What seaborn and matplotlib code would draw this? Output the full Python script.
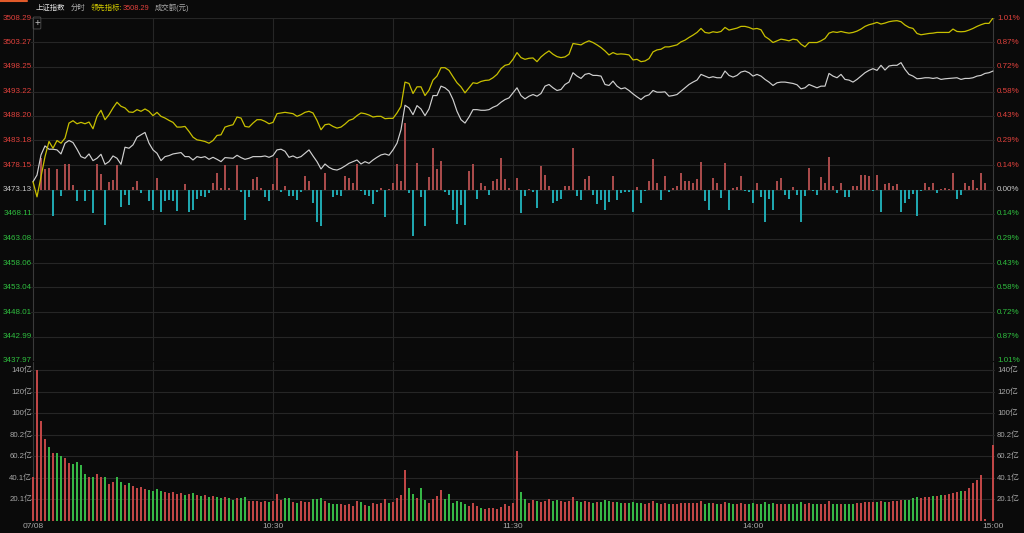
import numpy as np
import pandas as pd
import matplotlib.pyplot as plt
import seaborn as sns

# --- Data (one value per minute 09:30 .. 15:00) ---
PREV_CLOSE = 3473.13

PRICE_TICKS = [3508.29, 3503.27, 3498.25, 3493.22, 3488.20, 3483.18, 3478.15, 3473.13,
               3468.11, 3463.08, 3458.06, 3453.04, 3448.01, 3442.99, 3437.97]
PCT_LABELS = ['1.01%', '0.87%', '0.72%', '0.58%', '0.43%', '0.29%', '0.14%', '0.00%',
              '0.14%', '0.29%', '0.43%', '0.58%', '0.72%', '0.87%', '1.01%']

VOL_TICKS = [20.06, 40.11, 60.17, 80.23, 100.29, 120.34, 140.4]
VOL_LABELS = ['20.1亿', '40.1亿', '60.2亿', '80.2亿', '100亿', '120亿', '140亿']

TIME_POS = [0, 60, 120, 180, 240]
TIME_LABELS = ['07/08', '10:30', '11:30', '14:00', '15:00']

# index (white line)
WHITE = [
    3474.71, 3476.09, 3480.22, 3482.07, 3481.39, 3481.39, 3481.25, 3480.42, 3482.62, 3483.17,
    3482.76, 3481.39, 3479.87, 3479.53, 3480.42, 3479.05, 3479.53, 3480.35, 3478.29, 3478.84,
    3480.01, 3479.53, 3478.29, 3481.80, 3481.59, 3482.28, 3483.86, 3484.34, 3484.83, 3482.62,
    3481.25, 3480.56, 3479.05, 3479.87, 3480.08, 3480.42, 3480.56, 3480.70, 3479.87, 3479.87,
    3479.18, 3479.87, 3479.67, 3479.87, 3479.32, 3479.73, 3479.32, 3478.84, 3479.67, 3479.60,
    3479.53, 3480.15, 3479.67, 3479.32, 3479.53, 3479.87, 3479.87, 3479.87, 3480.01, 3479.73,
    3480.08, 3481.25, 3481.39, 3480.97, 3479.73, 3480.01, 3479.60, 3479.87, 3480.56, 3481.25,
    3480.01, 3478.84, 3477.33, 3478.36, 3477.67, 3477.26, 3477.12, 3477.46, 3477.95, 3478.50,
    3478.84, 3479.18, 3478.36, 3478.84, 3478.50, 3479.18, 3479.73, 3480.22, 3480.42, 3480.15,
    3481.25, 3482.62, 3485.38, 3490.40, 3489.85, 3488.47, 3490.33, 3489.64, 3488.27, 3489.64,
    3492.39, 3492.39, 3494.32, 3493.98, 3493.29, 3491.57, 3489.16, 3487.44, 3486.75, 3487.99,
    3489.50, 3489.50, 3489.37, 3489.37, 3489.50, 3489.99, 3490.33, 3491.02, 3491.57, 3491.91,
    3492.94, 3493.98, 3492.39, 3491.71, 3492.26, 3492.60, 3492.26, 3492.81, 3494.32, 3494.66,
    3493.98, 3493.43, 3493.63, 3494.66, 3495.15, 3497.07, 3496.38, 3495.90, 3496.73, 3496.93,
    3496.52, 3496.52, 3496.38, 3494.66, 3494.46, 3495.35, 3494.32, 3493.77, 3493.98, 3493.43,
    3492.74, 3492.12, 3491.57, 3492.26, 3492.53, 3493.43, 3493.08, 3493.08, 3493.15, 3492.26,
    3492.39, 3492.60, 3493.29, 3493.98, 3494.66, 3495.15, 3495.56, 3496.73, 3496.38, 3496.04,
    3496.25, 3496.04, 3496.04, 3497.42, 3496.52, 3496.18, 3496.52, 3497.21, 3497.42, 3497.07,
    3496.38, 3496.73, 3496.38, 3495.70, 3495.15, 3494.46, 3495.01, 3495.15, 3495.15, 3495.01,
    3494.87, 3494.60, 3493.77, 3493.98, 3494.66, 3494.32, 3493.98, 3494.32, 3494.32, 3496.93,
    3496.38, 3496.04, 3496.73, 3495.70, 3495.56, 3495.15, 3495.70, 3496.38, 3497.07, 3497.55,
    3497.90, 3497.55, 3498.59, 3497.62, 3498.45, 3498.59, 3498.59, 3499.14, 3497.76, 3496.73,
    3496.38, 3495.83, 3495.90, 3496.04, 3496.04, 3495.90, 3496.04, 3495.70, 3495.83, 3495.90,
    3495.97, 3496.04, 3495.70, 3495.90, 3495.90, 3496.04, 3496.38, 3496.52, 3496.93, 3497.07,
    3497.42,
]

# leading indicator (yellow line)
YELLOW = [
    3474.71, 3471.62, 3475.74, 3479.87, 3482.97, 3481.59, 3483.17, 3482.62, 3483.66, 3486.75,
    3487.23, 3486.61, 3486.89, 3486.61, 3486.96, 3485.58, 3488.13, 3489.37, 3487.44, 3488.47,
    3489.85, 3491.02, 3490.19, 3489.85, 3489.02, 3488.95, 3489.50, 3489.16, 3489.64, 3489.16,
    3488.27, 3488.95, 3488.13, 3487.78, 3487.30, 3486.89, 3485.93, 3485.93, 3486.06, 3485.03,
    3483.86, 3483.31, 3483.17, 3482.97, 3482.62, 3483.17, 3484.21, 3484.34, 3485.93, 3486.20,
    3486.41, 3487.99, 3487.78, 3486.06, 3485.93, 3486.75, 3487.44, 3487.44, 3487.10, 3486.61,
    3486.89, 3488.68, 3488.82, 3488.95, 3488.82, 3488.68, 3488.13, 3488.47, 3488.95, 3489.16,
    3488.82, 3487.30, 3485.38, 3486.41, 3486.55, 3486.06, 3485.72, 3485.93, 3486.55, 3487.30,
    3487.58, 3488.27, 3488.82, 3488.68, 3488.40, 3487.99, 3488.13, 3488.13, 3487.65, 3487.72,
    3487.72, 3488.82, 3490.19, 3495.15, 3494.87, 3492.81, 3494.18, 3494.18, 3492.39, 3493.49,
    3495.56, 3496.38, 3498.10, 3498.10, 3497.55, 3496.25, 3495.01, 3494.18, 3492.94, 3493.98,
    3495.01, 3494.87, 3495.28, 3495.49, 3495.56, 3496.04, 3496.73, 3497.90, 3498.59, 3498.79,
    3499.82, 3501.20, 3500.17, 3499.82, 3500.03, 3500.10, 3499.34, 3500.31, 3500.99, 3501.54,
    3500.86, 3500.37, 3500.17, 3500.31, 3500.86, 3503.06, 3502.92, 3502.78, 3503.26, 3503.61,
    3503.26, 3502.78, 3502.23, 3501.54, 3500.72, 3501.20, 3500.86, 3500.93, 3500.86, 3500.72,
    3499.69, 3499.82, 3499.34, 3499.48, 3499.96, 3501.34, 3501.75, 3501.89, 3502.37, 3502.37,
    3502.58, 3502.78, 3503.40, 3503.75, 3504.30, 3504.78, 3505.33, 3506.15, 3505.33, 3505.19,
    3505.47, 3505.33, 3505.53, 3506.36, 3505.81, 3506.02, 3506.22, 3506.57, 3506.57, 3506.36,
    3506.02, 3506.15, 3505.88, 3504.50, 3503.95, 3503.26, 3503.61, 3503.95, 3503.81, 3503.61,
    3503.95, 3503.81, 3502.92, 3502.37, 3503.26, 3503.26, 3503.26, 3503.61, 3504.09, 3505.19,
    3505.47, 3505.33, 3505.53, 3505.33, 3505.19, 3505.33, 3505.60, 3506.02, 3506.57, 3506.91,
    3507.12, 3507.39, 3507.05, 3507.25, 3507.53, 3507.67, 3507.74, 3507.53, 3506.84, 3506.36,
    3506.15, 3505.12, 3504.85, 3504.98, 3505.12, 3505.19, 3505.33, 3505.33, 3505.33, 3505.33,
    3506.02, 3505.53, 3505.47, 3505.53, 3505.81, 3506.15, 3506.57, 3506.91, 3507.19, 3507.19,
    3508.29,
]

# red / cyan strength bars around the previous close (points)
STRENGTH = [
    0, 0, 6.54, 4.27, 4.47, -5.37, 4.13, -1.38, 5.16, 5.16,
    0.89, -2.41, 0, -2.41, -0.34, -4.82, 5.16, 3.10, -7.22, 1.51,
    1.93, 4.95, -3.58, -1.03, -3.10, 0.55, 1.72, -0.69, 0, -2.41,
    -4.13, 2.41, -4.68, -2.41, -2.20, -2.41, -4.47, 0, 1.03, -4.68,
    -4.27, -1.93, -1.24, -1.51, -0.69, 1.24, 3.44, 0.34, 5.02, 0.21,
    0, 5.02, -0.55, -6.19, -1.51, 2.06, 2.55, 0.34, -1.51, -2.41,
    1.03, 6.54, -0.55, 0.69, -1.24, -1.24, -2.06, -0.55, 2.75, 1.72,
    -2.75, -6.74, -7.43, 3.44, 0, -1.51, -1.03, -1.24, 2.75, 2.41,
    1.24, 5.16, -0.21, -1.03, -1.38, -2.89, -0.55, 0.34, -5.64, 0.14,
    1.24, 5.16, 1.72, 13.62, -0.69, -9.49, 5.37, -1.51, -7.43, 2.61,
    8.46, 4.13, 5.85, -0.55, -1.03, -4.13, -7.02, -3.10, -7.22, 3.78,
    5.16, -1.93, 1.38, 0.69, -1.03, 1.72, 2.06, 6.40, 2.20, 0.34,
    0, 2.41, -4.82, -1.38, 0.14, -0.55, -3.78, 4.82, 2.89, 0.69,
    -2.75, -2.41, -1.93, 0.69, 0.69, 8.46, -1.24, -2.06, 2.20, 2.75,
    -1.03, -2.89, -2.06, -4.13, -2.61, 2.75, -2.06, -0.69, -0.55, -0.55,
    -4.68, 0.55, -2.75, -0.34, 1.72, 6.19, 1.38, -2.06, 2.75, -0.55,
    0.34, 0.69, 3.44, 1.72, 1.72, 1.24, 2.06, 5.64, -2.41, -4.13,
    2.41, 1.24, -1.72, 5.37, -4.27, 0.34, 0.55, 2.75, -0.34, -0.55,
    -2.75, 1.38, -1.51, -6.74, -1.93, -4.13, 1.72, 2.41, -1.03, -1.93,
    0.55, -1.03, -6.74, -1.38, 4.33, -0.34, -1.03, 2.61, 1.38, 6.74,
    0.69, -0.69, 1.38, -1.51, -1.51, 0.69, 0.69, 2.89, 2.89, 2.75,
    -0.34, 2.89, -4.68, 1.03, 1.38, 0.69, 1.03, -4.68, -2.75, -1.93,
    -0.83, -5.37, -0.34, 1.24, 0.55, 1.24, -0.69, 0.14, 0.34, 0.14,
    3.44, -1.93, -1.03, 1.38, 0.69, 1.93, 0.34, 3.30, 1.30, 0,
    0,
]

# turnover per minute (亿元)
VOLUME = [
    40.6, 140.4, 93.1, 76.3, 68.6, 63.2, 63.2, 60.4, 58.6, 53.9,
    52.7, 54.9, 52.0, 44.3, 41.5, 40.9, 44.3, 40.9, 41.5, 34.3,
    36.2, 41.5, 36, 34, 35, 33, 31, 32, 30, 29,
    28, 30, 28, 27, 26, 27, 25, 26, 24, 25,
    26, 24, 23, 24, 22, 23, 22, 21, 22, 21,
    20, 21, 21.5, 22.1, 18.7, 18.7, 18.3, 17.7, 18.7, 17.7,
    18.7, 24.9, 19.3, 21.1, 21.8, 17.7, 16.8, 18.7, 17.7, 17.7,
    20.2, 20.2, 21.5, 18.3, 17.1, 15.6, 15.6, 15.6, 14.6, 15.6,
    14.0, 18.7, 17.7, 14.6, 14.0, 17.1, 15.6, 16.8, 20.8, 17.1,
    17.7, 21.5, 24.6, 47.3, 31.1, 25.5, 21.8, 30.8, 19.3, 16.8,
    20.8, 23.3, 28.6, 20.8, 24.9, 17.1, 18.3, 17.7, 16.2, 14.0,
    16.8, 13.7, 12.1, 11.2, 12.1, 12.4, 10.9, 13.1, 15.6, 13.7,
    16.8, 65.0, 27.1, 20.2, 17.1, 19.3, 18.7, 17.4, 18.7, 20.2,
    18.7, 19.3, 19, 18, 19, 22, 19, 18, 19, 18,
    17, 18, 18, 20, 19, 18, 18, 17, 17, 17,
    18, 17, 17, 16, 17, 19, 17, 16, 17, 16,
    16, 16, 17, 17, 17, 17, 17, 19, 16, 17,
    17, 16, 16, 18, 17, 16, 16, 17, 16, 16,
    17, 16, 16, 18, 16, 17, 16, 16, 16, 16,
    16, 16, 18, 16, 17, 16, 16, 16, 16, 19,
    16, 16, 16, 16, 16, 16, 17, 17, 18, 18,
    18, 18, 19, 18, 18, 19, 19, 20, 20, 20,
    21, 22, 21, 22, 22, 23, 23, 24, 24, 25,
    26, 27, 27.8, 28.4, 30.9, 35.6, 38.7, 42.7, 2.3, 0,
    70.7,
]

# --- Colours ---
BG = '#0a0a0a'
GRID = '#262626'
FRAME = '#3a3a3a'
WHITE_C = '#d0d0d0'
YELLOW_C = '#c8c000'
UP_RED = '#e0413c'
DOWN_GREEN = '#2fbf3f'
BAR_RED = '#a84a4a'
BAR_CYAN = '#1fa6ae'
VOL_RED = '#c04646'
VOL_GREEN = '#36b646'
LABEL_GREY = '#a8a8a8'

minutes = np.arange(len(WHITE))
df = pd.DataFrame({'minute': minutes, 'index': WHITE, 'lead': YELLOW,
                   'strength': STRENGTH, 'volume': VOLUME})
# minute turnover coloured by the index move in that minute
df['up'] = df['index'].diff().fillna(1) >= 0

sns.set_theme(style='dark', rc={'axes.facecolor': BG, 'figure.facecolor': BG})
plt.rcParams['font.family'] = ['Liberation Sans', 'Noto Sans CJK SC', 'DejaVu Sans']

W, H = 1024, 533
fig = plt.figure(figsize=(W / 100, H / 100), dpi=100, facecolor=BG)
ax = fig.add_axes([31 / W, 1 - 361 / H, 964 / W, 343 / H])
axv = fig.add_axes([31 / W, 1 - 521 / H, 964 / W, 159 / H])

for a in (ax, axv):
    a.set_facecolor(BG)
    a.set_xlim(-0.5, 240.5)
    for s in a.spines.values():
        s.set_visible(False)
    a.set_xticks([])
    a.set_yticks([])
    a.grid(False)
    for m in range(30, 240, 30):
        a.axvline(m, color=GRID, lw=0.8, zorder=0)
    a.axvline(0, color=FRAME, lw=0.8, zorder=0)
    a.axvline(240, color=FRAME, lw=0.8, zorder=0)

# --- Price panel ---
ax.set_ylim(PRICE_TICKS[-1], PRICE_TICKS[0])
for p in PRICE_TICKS:
    ax.axhline(p, color=GRID, lw=0.8, zorder=0)

bar_cols = [BAR_RED if v > 0 else BAR_CYAN for v in df['strength']]
ax.bar(df['minute'], df['strength'], bottom=PREV_CLOSE, width=0.28,
       color=bar_cols, linewidth=0, antialiased=False, zorder=1)

sns.lineplot(data=df, x='minute', y='index', color=WHITE_C, lw=0.85,
             estimator=None, ax=ax, zorder=3)
sns.lineplot(data=df, x='minute', y='lead', color=YELLOW_C, lw=0.9,
             estimator=None, ax=ax, zorder=3)
ax.set_xlabel('')
ax.set_ylabel('')

ytr = ax.get_yaxis_transform()
for p, lab in zip(PRICE_TICKS, PCT_LABELS):
    if p > PREV_CLOSE + 0.01:
        c = UP_RED
    elif p < PREV_CLOSE - 0.01:
        c = DOWN_GREEN
    else:
        c = '#c8c8c8'
    ax.text(0.0012, p, f'{p:.2f}', transform=ytr, ha='right', va='center',
            fontsize=5.8, color=c)
    ax.text(1.002, p, lab, transform=ytr, ha='left', va='center',
            fontsize=5.8, color=c)

# --- Turnover panel ---
axv.set_ylim(0, 148.3)
for v in VOL_TICKS:
    axv.axhline(v, color=GRID, lw=0.8, zorder=0)
vol_cols = [VOL_RED if u else VOL_GREEN for u in df['up']]
axv.bar(df['minute'], df['volume'], width=0.35, color=vol_cols, linewidth=0, zorder=2)

vtr = axv.get_yaxis_transform()
for v, lab in zip(VOL_TICKS, VOL_LABELS):
    axv.text(0.0012, v, lab, transform=vtr, ha='right', va='center',
             fontsize=5.6, color=LABEL_GREY)
    axv.text(1.002, v, lab, transform=vtr, ha='left', va='center',
             fontsize=5.6, color=LABEL_GREY)

xtr = axv.get_xaxis_transform()
for m, lab in zip(TIME_POS, TIME_LABELS):
    axv.text(m, -0.033, lab, transform=xtr, ha='center', va='center',
             fontsize=6, color=LABEL_GREY)

# --- Header ---
def px(x, y):
    return x / W, 1 - y / H

hdr = [(36, '上证指数', '#e0e0e0'), (71, '分时', '#b0b0b0'),
       (91, '领先指标:', '#d4cc00'), (123, '3508.29', UP_RED),
       (155, '成交额(元)', '#a8a8a8')]
for x, t, c in hdr:
    fig.text(*px(x, 8), t, ha='left', va='center', fontsize=5.3, color=c)

fig.text(*px(37, 23), '+', ha='center', va='center', fontsize=7, color='#c0c0c0',
         bbox=dict(boxstyle='round,pad=0.1', fc='none', ec='#505050', lw=0.6))
fig.add_artist(plt.Line2D([0, 27 / W], [1 - 1 / H, 1 - 1 / H], color='#e05a2a', lw=1.5))

fig.savefig('out.png', dpi=100, facecolor=BG)
